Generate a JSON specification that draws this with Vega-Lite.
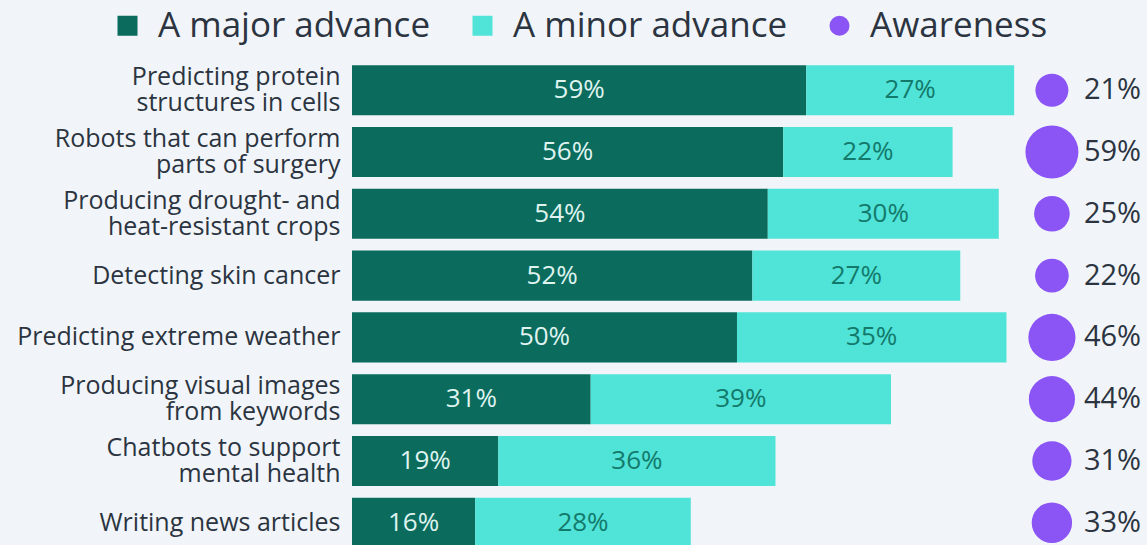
{
  "$schema": "https://vega.github.io/schema/vega-lite/v6.json",
  "autosize": "none",
  "width": 795,
  "height": 495,
  "padding": {"left": 352, "top": 59, "right": 0, "bottom": 0},
  "background": "#f1f5f9",
  "config": {
    "view": {"stroke": null},
    "font": "Open Sans",
    "axis": {"labelFont": "Open Sans"},
    "legend": {"labelFont": "Open Sans"}
  },
  "data": {
    "values": [
      {"item": "Predicting protein\nstructures in cells", "series": "A major advance", "value": 59},
      {"item": "Predicting protein\nstructures in cells", "series": "A minor advance", "value": 27},
      {"item": "Predicting protein\nstructures in cells", "series": "Awareness", "value": 21},
      {"item": "Robots that can perform\nparts of surgery", "series": "A major advance", "value": 56},
      {"item": "Robots that can perform\nparts of surgery", "series": "A minor advance", "value": 22},
      {"item": "Robots that can perform\nparts of surgery", "series": "Awareness", "value": 59},
      {"item": "Producing drought- and\nheat-resistant crops", "series": "A major advance", "value": 54},
      {"item": "Producing drought- and\nheat-resistant crops", "series": "A minor advance", "value": 30},
      {"item": "Producing drought- and\nheat-resistant crops", "series": "Awareness", "value": 25},
      {"item": "Detecting skin cancer", "series": "A major advance", "value": 52},
      {"item": "Detecting skin cancer", "series": "A minor advance", "value": 27},
      {"item": "Detecting skin cancer", "series": "Awareness", "value": 22},
      {"item": "Predicting extreme weather", "series": "A major advance", "value": 50},
      {"item": "Predicting extreme weather", "series": "A minor advance", "value": 35},
      {"item": "Predicting extreme weather", "series": "Awareness", "value": 46},
      {"item": "Producing visual images\nfrom keywords", "series": "A major advance", "value": 31},
      {"item": "Producing visual images\nfrom keywords", "series": "A minor advance", "value": 39},
      {"item": "Producing visual images\nfrom keywords", "series": "Awareness", "value": 44},
      {"item": "Chatbots to support\nmental health", "series": "A major advance", "value": 19},
      {"item": "Chatbots to support\nmental health", "series": "A minor advance", "value": 36},
      {"item": "Chatbots to support\nmental health", "series": "Awareness", "value": 31},
      {"item": "Writing news articles", "series": "A major advance", "value": 16},
      {"item": "Writing news articles", "series": "A minor advance", "value": 28},
      {"item": "Writing news articles", "series": "Awareness", "value": 33}
    ]
  },
  "encoding": {
    "y": {
      "field": "item",
      "type": "nominal",
      "sort": null,
      "title": null,
      "scale": {"paddingInner": 0.19, "paddingOuter": 0.1},
      "axis": {
        "domain": false,
        "ticks": false,
        "labelPadding": 12,
        "labelFontSize": 25,
        "labelColor": "#2b3440",
        "labelLineHeight": 26,
        "labelLimit": 400,
        "labelOffset": {"condition": {"test": "indexof(datum.value, '\\n') >= 0", "value": -13}, "value": 0},
        "labelExpr": "split(datum.label, '\\n')"
      }
    }
  },
  "layer": [
    {
      "transform": [
        {"filter": "datum.series !== 'Awareness'"},
        {"stack": "value", "groupby": ["item"], "sort": [{"field": "series", "order": "ascending"}], "as": ["x0", "x1"]}
      ],
      "mark": {"type": "bar"},
      "encoding": {
        "x": {"field": "x0", "type": "quantitative", "scale": {"domain": [0, 103.25], "nice": false, "zero": true}, "axis": null},
        "x2": {"field": "x1"},
        "color": {
          "field": "series",
          "type": "nominal",
          "scale": {"domain": ["A major advance", "A minor advance", "Awareness"], "range": ["#0b6b5d", "#50e3d8", "#8b54f5"]},
          "legend": {
            "title": null,
            "orient": "none",
            "legendX": -242,
            "legendY": -51,
            "direction": "horizontal",
            "columns": 3,
            "columnPadding": 34,
            "symbolSize": 400,
            "symbolStrokeWidth": 0,
            "labelFontSize": 35,
            "labelColor": "#2b3440",
            "labelOffset": 13,
            "labelLimit": 400
          }
        }
      }
    },
    {
      "transform": [
        {"filter": "datum.series !== 'Awareness'"},
        {"stack": "value", "groupby": ["item"], "sort": [{"field": "series", "order": "ascending"}], "as": ["x0", "x1"]},
        {"fold": ["x0", "x1"], "as": ["edge", "pos"]},
        {"aggregate": [{"op": "mean", "field": "pos", "as": "mid"}], "groupby": ["item", "series", "value"]}
      ],
      "mark": {"type": "text", "fontSize": 26, "align": "center", "baseline": "middle", "text": {"expr": "datum.value + '%'"}},
      "encoding": {
        "x": {"field": "mid", "type": "quantitative"},
        "color": {
          "condition": {"test": "datum.series === 'A major advance'", "value": "#dff3ef"},
          "value": "#137a6b"
        }
      }
    },
    {
      "transform": [{"filter": "datum.series === 'Awareness'"}],
      "mark": {"type": "point", "filled": true, "opacity": 1},
      "encoding": {
        "x": {"datum": 90.9, "type": "quantitative"},
        "color": {"field": "series", "type": "nominal"},
        "shape": {
          "field": "series",
          "type": "nominal",
          "scale": {"domain": ["A major advance", "A minor advance", "Awareness"], "range": ["square", "square", "circle"]}
        },
        "size": {
          "field": "value",
          "type": "quantitative",
          "scale": {"type": "linear", "domain": [21, 59], "range": [1089, 2809], "zero": false},
          "legend": null
        }
      }
    },
    {
      "transform": [{"filter": "datum.series === 'Awareness'"}],
      "mark": {"type": "text", "fontSize": 29, "align": "left", "baseline": "middle", "dx": 32, "color": "#2b3440", "text": {"expr": "datum.value + '%'"}},
      "encoding": {
        "x": {"datum": 90.9, "type": "quantitative"}
      }
    }
  ]
}
